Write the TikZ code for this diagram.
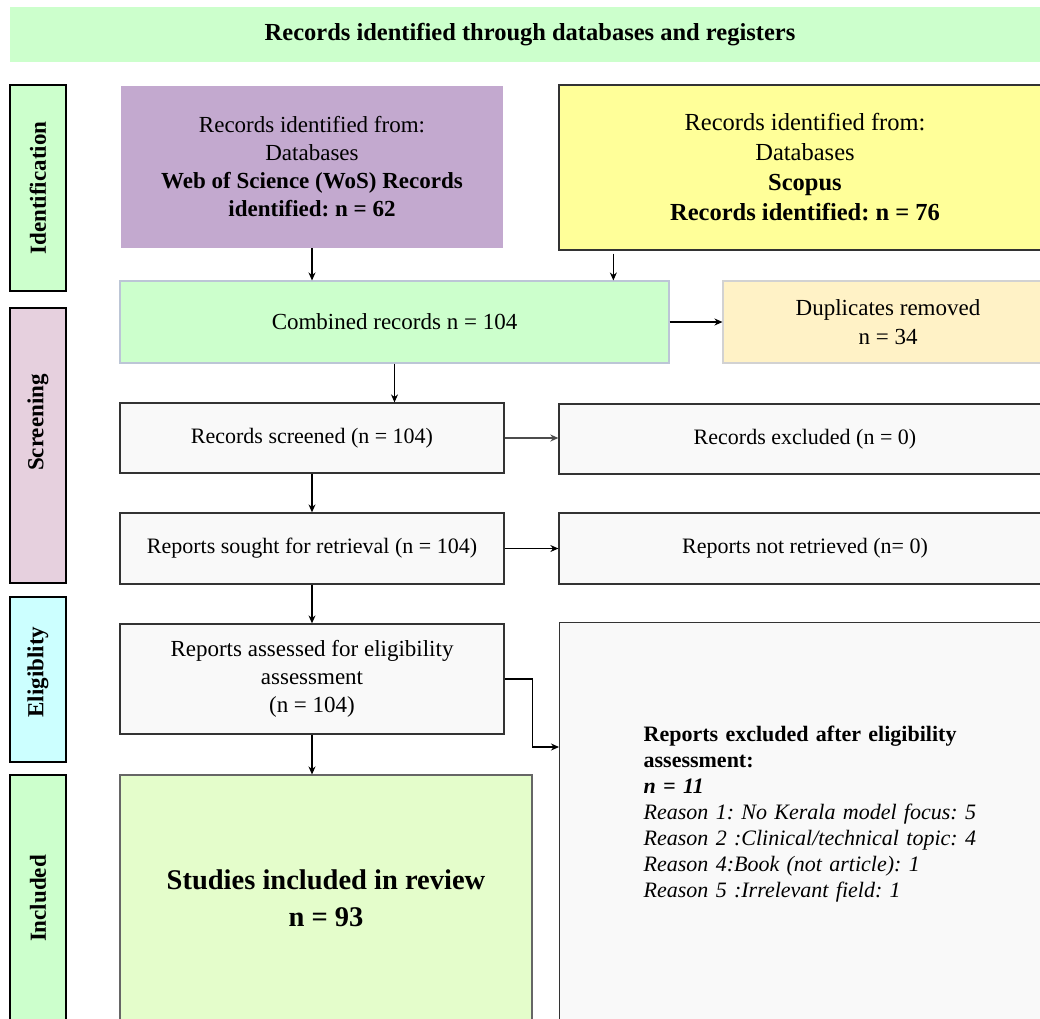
\documentclass[tikz,border=0pt]{standalone}
\usepackage{fontspec}
\setmainfont{Liberation Serif}
\usetikzlibrary{arrows.meta}
\frenchspacing
\definecolor{cgreen}{HTML}{CCFFCC}
\definecolor{cpurple}{HTML}{C3A9CF}
\definecolor{cyellow}{HTML}{FFFF99}
\definecolor{cdup}{HTML}{FFF2C6}
\definecolor{cgray}{HTML}{F9F9F9}
\definecolor{cstud}{HTML}{E4FDCB}
\definecolor{cscr}{HTML}{E6D0DE}
\definecolor{celig}{HTML}{CCFFFF}
\definecolor{cborder}{HTML}{333333}
\definecolor{clight}{HTML}{BCC6D6}
\definecolor{cdupb}{HTML}{D2D2D2}
\newcommand{\fs}[2]{\fontsize{#1}{#2}\selectfont}
\tikzset{
  base/.style={rectangle, inner sep=0pt, align=center, text=black},
  graybox/.style={base, fill=cgray, draw=cborder, line width=1.3pt, font=\fs{22}{27}},
  phase/.style={base, draw=black, line width=1.4pt, rotate=90, minimum height=56pt, font=\fs{23}{28}\bfseries},
  arr/.style={draw=black, line width=1.1pt, -{Stealth[length=8pt,width=7pt]}},
}
\begin{document}
\begin{tikzpicture}[x=1pt,y=-1pt]
\useasboundingbox (0,0) rectangle (1040,1018);
\fill[white] (0,0) rectangle (1040,1018);
\clip (0,0) rectangle (1040,1018);

% banner
\node[base, fill=cgreen, minimum width=1040pt, minimum height=55pt, font=\fs{24.5}{29}\bfseries] (banner) at (530,34.5) {Records identified through databases and registers};

% phase labels
\node[phase, fill=cgreen, minimum width=206pt] (lid) at (38,188) {Identification};
\node[phase, fill=cscr, minimum width=275pt] (lsc) at (38,445.5) {\hspace*{46pt}Screening};
\node[phase, fill=celig, minimum width=165pt] (lel) at (38,679.5) {\hspace*{15pt}Eligiblity};
\node[phase, fill=cgreen, minimum width=247pt] (lin) at (38,898.5) {Included};

% identification
\node[base, fill=cpurple, minimum width=382pt, minimum height=162pt, font=\fs{23}{28}] (wos) at (312,167)
  {Records identified from:\\ Databases\\ \textbf{Web of Science (WoS) Records}\\ \textbf{identified: n = 62}};
\node[base, fill=cyellow, draw=cborder, line width=1.3pt, minimum width=492pt, minimum height=165pt, font=\fs{24.5}{30}] (scop) at (805,167.5)
  {Records identified from:\\ Databases\\ \textbf{Scopus}\\ \textbf{Records identified: n = 76}};

\node[base, fill=cgreen, draw=clight, line width=1.1pt, minimum width=549pt, minimum height=82pt, font=\fs{23}{28}] (comb) at (394.5,322)
  {Combined records n = 104};
\node[base, fill=cdup, draw=cdupb, line width=1.1pt, minimum width=330pt, minimum height=82pt, font=\fs{23}{29}] (dup) at (888,322)
  {Duplicates removed\\ n = 34};

% screening
\node[graybox, minimum width=384pt, minimum height=70pt] (scr) at (312,438) {Records screened (n = 104)};
\node[graybox, minimum width=492pt, minimum height=70pt] (rex) at (805,439) {Records excluded (n = 0)};
\node[graybox, minimum width=384pt, minimum height=71pt] (sought) at (312,548.5) {Reports sought for retrieval (n = 104)};
\node[graybox, minimum width=492pt, minimum height=71pt] (nret) at (805,548.5) {Reports not retrieved (n= 0)};

% eligibility
\node[graybox, minimum width=384pt, minimum height=110pt, font=\fs{23}{28}] (assess) at (312,679)
  {Reports assessed for eligibility\\ assessment\\ (n = 104)};
\node[graybox, anchor=north west, inner xsep=84pt, text width=340pt, align=left, minimum height=418pt, font=\fs{22}{26}] (excl) at (559,622)
  {\textbf{Reports excluded after eligibility}\\
   \textbf{assessment:}\\
   \textbf{\textit{n = 11}}\\
   \textit{Reason 1: No Kerala model focus: 5}\\
   \textit{Reason 2 :Clinical/technical topic: 4}\\
   \textit{Reason 4:Book (not article): 1}\\
   \textit{Reason 5 :Irrelevant field: 1}\rule[-40pt]{0pt}{0pt}};

% included
\node[base, fill=cstud, draw=black!60, line width=1.1pt, minimum width=412pt, minimum height=247pt, font=\fs{28.5}{37}\bfseries] (incl) at (326,898.5)
  {Studies included in review\\ n = 93};

% connectors
\draw[arr] (wos.south) -- (wos.south |- comb.north);
\draw[arr] ([xshift=55pt,yshift=-3pt]scop.south west) -- ([xshift=55pt]scop.south west |- comb.north);
\draw[arr] (comb.south) -- (comb.south |- scr.north);
\draw[arr] (comb.east) -- (dup.west);
\draw[arr, draw=black!70, line width=1.4pt] (scr.east) -- (scr.east -| rex.west);
\draw[arr] (scr.south) -- (sought.north);
\draw[arr] (sought.east) -- (nret.west);
\draw[arr] (sought.south) -- (assess.north);
\draw[arr] (assess.east) -- ++(28,0) |- ([yshift=-125pt]excl.north west);
\draw[arr] (assess.south) -- (assess.south |- incl.north);
\end{tikzpicture}
\end{document}
